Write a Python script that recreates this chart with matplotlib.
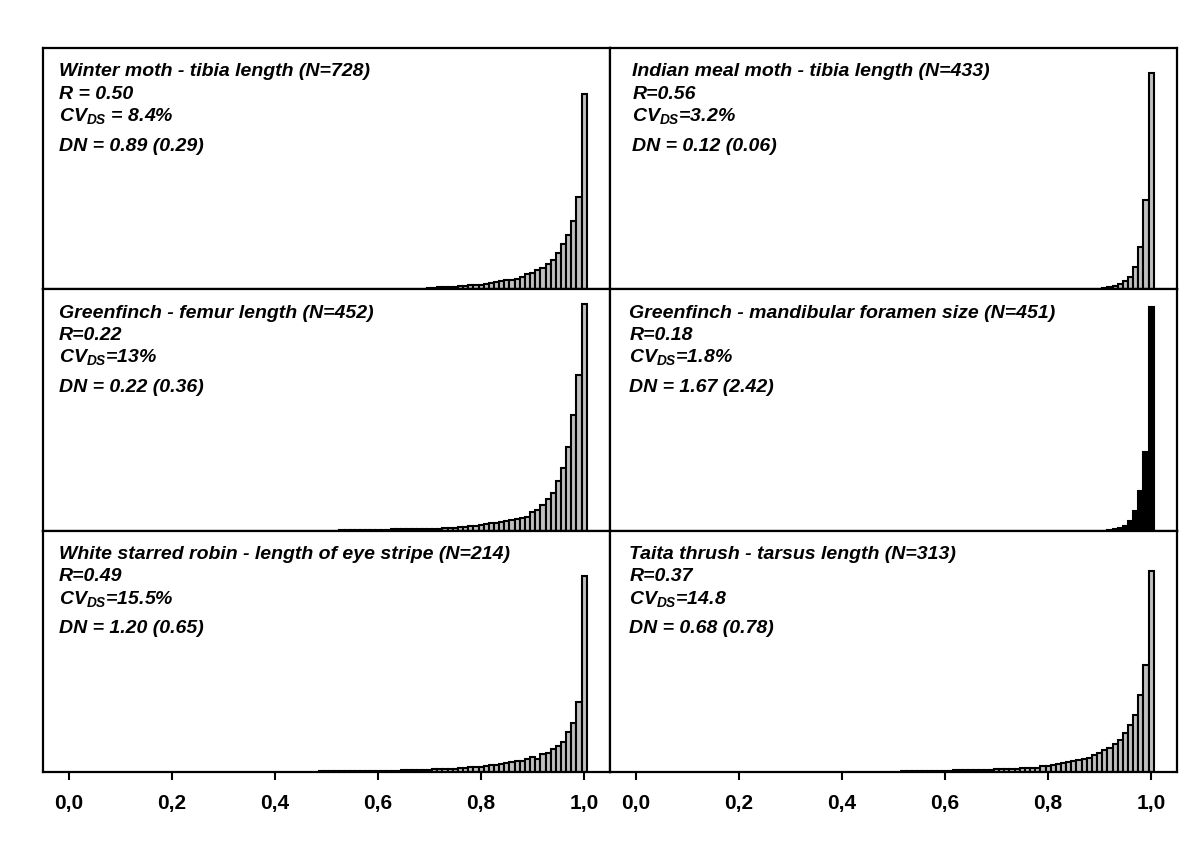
import numpy as np
import matplotlib
matplotlib.use("Agg")
import matplotlib.pyplot as plt

plt.rcParams['font.family'] = ['Liberation Sans', 'DejaVu Sans']
plt.rcParams['mathtext.fontset'] = 'custom'
plt.rcParams['mathtext.it'] = 'Liberation Sans:bold:italic'
plt.rcParams['mathtext.rm'] = 'Liberation Sans:bold:italic'
plt.rcParams['mathtext.bf'] = 'Liberation Sans:bold:italic'

# bin width of the histograms, first bin of each panel
bin_w = 0.01

# heights, lowest bin first, last bin = 1.0
winter_start = 0.70
winter = [1, 1, 2, 2, 2, 2, 3, 3, 4, 4, 4, 5, 6, 7, 8, 9, 9, 10, 12, 15, 16,
          19, 21, 25, 29, 36, 45, 54, 68, 92, 194]

meal_start = 0.91
meal = [1, 2, 3, 5, 8, 12, 22, 42, 89, 215]

femur_start = 0.53
femur = [0.5, 0.5, 0.5, 1, 1, 1, 1, 1, 1, 1, 1.5, 1.5, 1.5, 1.5, 1.5, 2, 2, 2,
         2, 2, 2.5, 3, 3, 4, 4, 5, 5, 6, 7, 8, 8, 9, 10, 11, 12, 13, 14, 19, 21,
         26, 31, 37, 49, 62, 83, 115, 155, 225]

foramen_start = 0.92
foramen = [1, 2, 3, 5, 10, 20, 39, 78, 222]

robin_start = 0.49
robin = [1.2, 0.8, 1.2, 0.8, 1, 0.8, 0.8, 1, 1, 1, 1, 1.1, 1.2, 1.2, 1.3, 1.4,
         1.5, 1.5, 1.6, 1.6, 2, 2, 3, 3, 3, 3, 3.3, 3.6, 4, 4.6, 5, 5, 6, 6.6,
         7, 8, 9, 9.6, 10.6, 11, 13, 14.6, 13, 18, 19, 22.6, 26, 30, 40, 49,
         70, 195]

thrush_start = 0.52
thrush = [0.6, 0.7, 0.8, 1, 1, 1.1, 1.2, 1.2, 1.3, 1.4, 1.5, 1.5, 1.6, 1.7, 2,
          2, 2.3, 2.3, 2.7, 3, 3, 3, 3.3, 4.3, 4, 4, 4, 5.7, 6, 7, 8, 9, 10, 11,
          12, 13, 14, 17, 19, 22, 24, 28, 32, 39, 47, 57, 77, 106, 200]

titles = ["Winter moth - tibia length (N=728)",
          "Indian meal moth - tibia length (N=433)",
          "Greenfinch - femur length (N=452)",
          "Greenfinch - mandibular foramen size (N=451)",
          "White starred robin - length of eye stripe (N=214)",
          "Taita thrush - tarsus length (N=313)"]
r_txt = ["R = 0.50", "R=0.56", "R=0.22", "R=0.18", "R=0.49", "R=0.37"]
cv_txt = [" = 8.4%", "=3.2%", "=13%", "=1.8%", "=15.5%", "=14.8"]
dn_txt = ["DN = 0.89 (0.29)", "DN = 0.12 (0.06)", "DN = 0.22 (0.36)",
          "DN = 1.67 (2.42)", "DN = 1.20 (0.65)", "DN = 0.68 (0.78)"]

panels = [(winter_start, winter), (meal_start, meal), (femur_start, femur),
          (foramen_start, foramen), (robin_start, robin), (thrush_start, thrush)]
fills = ['#bfbfbf', '#bfbfbf', '#bfbfbf', 'black', '#bfbfbf', '#bfbfbf']

xticks = [0.0, 0.2, 0.4, 0.6, 0.8, 1.0]
xticklabels = ["0,0", "0,2", "0,4", "0,6", "0,8", "1,0"]

fig = plt.figure(figsize=(12, 8.47), dpi=100)
gs = fig.add_gridspec(3, 2, left=43/1200, right=1177/1200, top=1-48/847,
                      bottom=1-772/847, wspace=0, hspace=0)

for i, (start, h) in enumerate(panels):
    ax = fig.add_subplot(gs[i // 2, i % 2])
    h = np.array(h)
    x = start + bin_w * np.arange(len(h))
    ax.bar(x, h, width=bin_w, color=fills[i], edgecolor='black', linewidth=1.5)
    ax.set_xlim(-0.05, 1.05)
    ax.set_ylim(0, 240)
    ax.set_yticks([])
    for s in ax.spines.values():
        s.set_linewidth(1.6)
    if i >= 4:
        ax.set_xticks(xticks)
        ax.set_xticklabels(xticklabels, fontsize=15, fontweight='bold')
        ax.tick_params(axis='x', direction='out', length=6, width=1.5, pad=10)
    else:
        ax.set_xticks([])

    dx = 11.5 if i % 2 == 0 else (16 if i == 1 else 14)
    kw = dict(xycoords='axes fraction', textcoords='offset points',
              fontsize=14, fontweight='bold', fontstyle='italic',
              ha='left', va='baseline')
    ax.annotate(titles[i], (0, 1), xytext=(dx, -20.5), **kw)
    ax.annotate(r_txt[i], (0, 1), xytext=(dx, -36.5), **kw)
    ax.annotate(r"$CV_{DS}$" + cv_txt[i], (0, 1), xytext=(dx, -52.5), **kw)
    ax.annotate(dn_txt[i], (0, 1), xytext=(dx, -74), **kw)

fig.savefig("out.png", dpi=100)
